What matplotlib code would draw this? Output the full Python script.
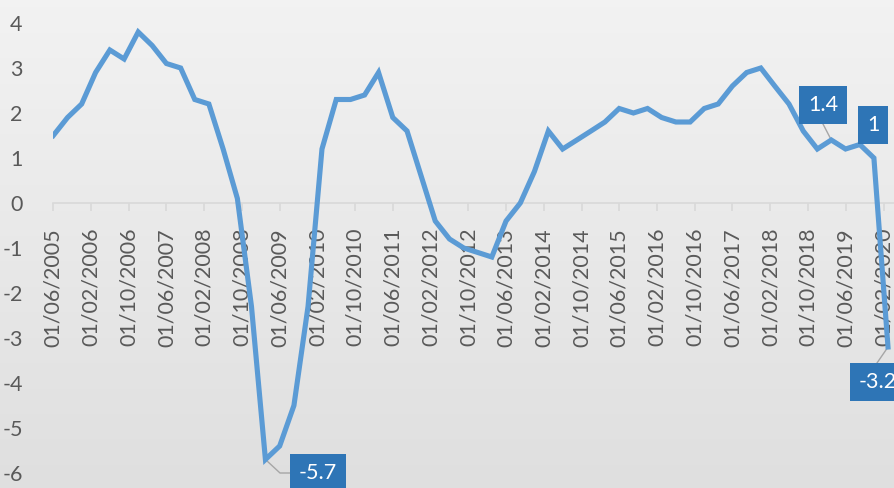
import numpy as np
import pandas as pd
import matplotlib
matplotlib.use("Agg")
import matplotlib.pyplot as plt
import matplotlib.dates as mdates

# quarterly series, Jun 2005 .. Mar 2020
START = "2005-06-01"
values = [
    1.5, 1.9, 2.2, 2.9, 3.4, 3.2, 3.8, 3.5, 3.1, 3.0,
    2.3, 2.2, 1.2, 0.1, -2.3, -5.7, -5.4, -4.5, -2.3, 1.2,
    2.3, 2.3, 2.4, 2.9, 1.9, 1.6, 0.6, -0.4, -0.8, -1.0,
    -1.1, -1.2, -0.4, 0.0, 0.7, 1.6, 1.2, 1.4, 1.6, 1.8,
    2.1, 2.0, 2.1, 1.9, 1.8, 1.8, 2.1, 2.2, 2.6, 2.9,
    3.0, 2.6, 2.2, 1.6, 1.2, 1.4, 1.2, 1.3, 1.0, -3.2,
]
dates = pd.date_range(START, periods=len(values), freq="3MS")
tick_dates = pd.date_range(START, "2020-02-01", freq="8MS")
y_ticks = [4, 3, 2, 1, 0, -1, -2, -3, -4, -5, -6]

# labelled points: (index, text)
labelled = [(15, "-5.7"), (55, "1.4"), (58, "1"), (59, "-3.2")]

LINE = "#5B9BD5"
BOX = "#2E75B6"
TXT = "#595959"
plt.rcParams["font.family"] = ["Lato", "DejaVu Sans"]

fig = plt.figure(figsize=(8.95, 4.88), dpi=100)

# gradient background
bg = fig.add_axes([0, 0, 1, 1], zorder=0)
grad = np.linspace(0.95, 0.875, 256).reshape(-1, 1)
bg.imshow(np.dstack([grad, grad, grad]), aspect="auto", extent=[0, 1, 0, 1])
bg.set_axis_off()

W, H = 895, 488
x0 = 53.3
ax = fig.add_axes([x0 / W, 0, 1 - x0 / W, 1], zorder=1)
ax.patch.set_alpha(0)

ax.plot(dates, values, color=LINE, lw=3.7, solid_joinstyle="miter", zorder=3)

# axis limits from pixel mapping: 0 at y=203, 45 px per unit
ax.set_ylim((203 - H) / 45, 203 / 45)
d0 = mdates.date2num(dates[0])
dlast = mdates.date2num(dates[-1])
px_per_day = (888 - x0) / (dlast - d0)
ax.set_xlim(d0, d0 + (W - x0) / px_per_day)

for s in ["left", "right", "top", "bottom"]:
    ax.spines[s].set_visible(False)
ax.spines["bottom"].set_visible(True)
ax.spines["bottom"].set_position(("data", 0))
ax.spines["bottom"].set_color("#d9d9d9")
ax.spines["bottom"].set_linewidth(1.2)

ax.set_xticks(tick_dates)
ax.set_xticklabels([d.strftime("%d/%m/%Y") for d in tick_dates], rotation=90,
                   va="top", ha="center")
ax.tick_params(axis="x", direction="out", length=6, width=1.2, color="#d9d9d9",
               labelcolor=TXT, labelsize=15.5, pad=12)
ax.set_yticks(y_ticks)
ax.set_yticklabels([str(v) for v in y_ticks])
ax.tick_params(axis="y", length=0, labelcolor=TXT, labelsize=15.5, pad=22)

def px(xd, yv):
    # data -> pixel (top-left origin)
    return (x0 + (mdates.date2num(xd) - d0) * px_per_day, 203 - 45 * yv)

def inv(xp, yp):
    return (d0 + (xp - x0) / px_per_day, (203 - yp) / 45)

# box centres in pixels and leader paths
box_px = {"-5.7": (318, 473), "1.4": (823, 105), "1": (873, 125), "-3.2": (878, 382)}
leaders = {"-5.7": [(280, 473), (291, 473)], "1.4": [(823, 124)],
           "1": [], "-3.2": [(877, 363)]}

for i, t in labelled:
    xp, yp = px(dates[i], values[i])
    path = [(xp, yp)] + leaders[t]
    if len(path) > 1:
        pts = [inv(a, b) for a, b in path]
        ax.plot([p[0] for p in pts], [p[1] for p in pts], color="#a6a6a6",
                lw=1.0, zorder=2, clip_on=False)
    bx, by = inv(*box_px[t])
    ax.text(bx, by, t, color="white", fontsize=15.5, ha="center", va="center",
            zorder=5, clip_on=False,
            bbox=dict(boxstyle="square,pad=0.4", fc=BOX, ec="none"))

fig.savefig("out.png", dpi=100)
